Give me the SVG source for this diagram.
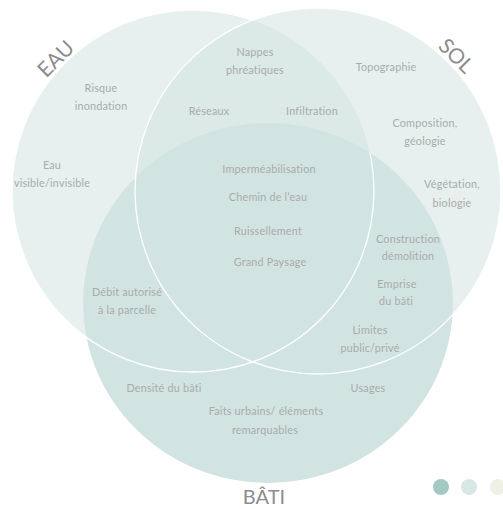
<svg xmlns="http://www.w3.org/2000/svg" width="503" height="509" viewBox="0 0 503 509">
<style>
.lbl{font-family:Lato,"Noto Sans","DejaVu Sans",sans-serif;font-size:10.8px;fill:#a8abaa;text-anchor:middle;letter-spacing:0.2px}
.ttl{font-family:Lato,"Noto Sans","DejaVu Sans",sans-serif;font-size:21px;fill:#8c8c8c;text-anchor:middle}
.set{fill:#cfe2df;fill-opacity:0.5}
.edge{fill:none;stroke:#ffffff;stroke-width:1.3}
</style>
<defs>
<mask id="eauMask" maskUnits="userSpaceOnUse" x="0" y="0" width="503" height="509">
<rect x="0" y="0" width="503" height="509" fill="#fff"/>
<circle cx="318" cy="191" r="183" fill="#000"/>
<ellipse cx="268" cy="303" rx="185" ry="180" fill="#fff"/>
</mask>
</defs>
<g id="set-eau"><circle class="set" cx="193" cy="191" r="181"/></g>
<g id="set-sol"><circle class="set" cx="318" cy="191" r="183"/></g>
<g id="set-bati"><ellipse cx="268" cy="303" rx="185" ry="180" fill="#d2e4e1"/></g>
<g id="edges">
<circle class="edge" cx="193" cy="191" r="181" mask="url(#eauMask)"/>
<circle class="edge" cx="318" cy="191" r="183"/>
</g>
<g id="titles">
<text class="ttl" transform="translate(56,59) rotate(-45)" y="7">EAU</text>
<text class="ttl" transform="translate(456,56) rotate(45)" y="7">SOL</text>
<text class="ttl" x="264" y="504" style="font-size:20px">BÂTI</text>
</g>
<g id="labels">
<text class="lbl" x="255" y="56">Nappes</text>
<text class="lbl" x="255" y="74">phréatiques</text>
<text class="lbl" x="101" y="92">Risque</text>
<text class="lbl" x="101" y="110">inondation</text>
<text class="lbl" x="209" y="115">Réseaux</text>
<text class="lbl" x="312" y="115">Infiltration</text>
<text class="lbl" x="386" y="71">Topographie</text>
<text class="lbl" x="425" y="127">Composition,</text>
<text class="lbl" x="425" y="145">géologie</text>
<text class="lbl" x="452" y="188">Végétation,</text>
<text class="lbl" x="452" y="207">biologie</text>
<text class="lbl" x="52" y="169">Eau</text>
<text class="lbl" x="52" y="187">visible/invisible</text>
<text class="lbl" x="269" y="173">Imperméabilisation</text>
<text class="lbl" x="268" y="201">Chemin de l’eau</text>
<text class="lbl" x="268" y="235">Ruissellement</text>
<text class="lbl" x="270" y="266">Grand Paysage</text>
<text class="lbl" x="408" y="243">Construction</text>
<text class="lbl" x="408" y="260">démolition</text>
<text class="lbl" x="397" y="288">Emprise</text>
<text class="lbl" x="396" y="305">du bâti</text>
<text class="lbl" x="370" y="334">Limites</text>
<text class="lbl" x="370" y="352">public/privé</text>
<text class="lbl" x="368" y="392">Usages</text>
<text class="lbl" x="127" y="296">Débit autorisé</text>
<text class="lbl" x="127" y="314">à la parcelle</text>
<text class="lbl" x="164" y="392">Densité du bâti</text>
<text class="lbl" x="266" y="415">Faits urbains/ éléments</text>
<text class="lbl" x="265" y="434">remarquables</text>
</g>
<g id="dots">
<circle cx="441" cy="487" r="8" fill="#a3c9c3"/>
<circle cx="469" cy="487" r="8" fill="#d9e8e4"/>
<circle cx="498" cy="487" r="8" fill="#eff1e5"/>
</g>
</svg>
